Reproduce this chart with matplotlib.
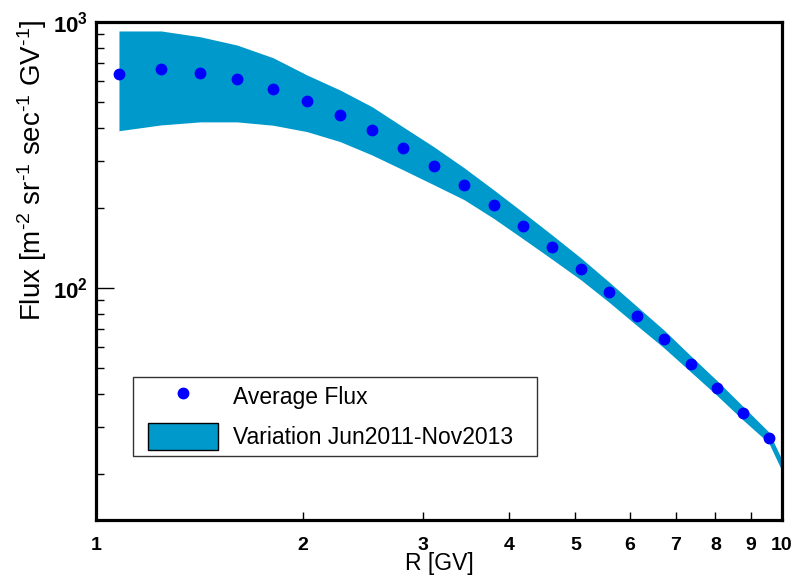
"""
Average flux vs rigidity with the Jun2011-Nov2013 variation band.
"""

import matplotlib
matplotlib.use("Agg")
import matplotlib.pyplot as plt
from matplotlib.legend_handler import HandlerLine2D, HandlerPatch
from matplotlib.patches import Patch
from matplotlib.ticker import FixedLocator, NullFormatter, NullLocator

plt.rcParams["font.family"] = ["Liberation Sans", "DejaVu Sans"]
plt.rcParams["mathtext.fontset"] = "custom"
plt.rcParams["mathtext.rm"] = "Liberation Sans"
plt.rcParams["mathtext.bf"] = "Liberation Sans:bold"
plt.rcParams["mathtext.default"] = "regular"

# rigidity points (GV) and average flux
rigidity = [1.08, 1.244, 1.418, 1.605, 1.811, 2.03, 2.268, 2.526, 2.803, 3.11,
            3.44, 3.80, 4.193, 4.62, 5.09, 5.595, 6.145, 6.73, 7.37, 8.04,
            8.77, 9.57]
avg_flux = [637, 666, 643, 610, 560, 505, 447, 393, 336, 288,
            244, 205, 171, 142.6, 117.9, 96.6, 78.5, 64.3, 51.8, 42.1,
            33.9, 27.3]

# variation band (min / max over the period), one extra point at 10 GV
band_r = rigidity + [10.0]
band_hi = [925, 925, 880, 819, 734, 632, 555, 480, 403, 339,
           283, 233.7, 192.4, 158.3, 129.7, 105.3, 85.2, 69.4, 55.4, 44.8,
           35.9, 28.7, 22.6]
band_lo = [390, 410, 421, 421, 409, 387, 355, 316, 278, 244,
           214.7, 182.5, 153, 128.3, 107.3, 88.4, 72.2, 59.5, 48.2, 39.4,
           31.9, 26.1, 20.5]

x_ticks = [1, 2, 3, 4, 5, 6, 7, 8, 9, 10]

fig = plt.figure(figsize=(7.95, 5.78), dpi=100)
ax = fig.add_axes([0.1208, 0.1003, 0.8628, 0.8617])

band_color = "#0099cc"
ax.fill_between(band_r, band_lo, band_hi, color=band_color, linewidth=0)
pts, = ax.plot(rigidity, avg_flux, "o", color="#0000ff", markersize=7.5)

ax.set_xscale("log")
ax.set_yscale("log")
ax.set_xlim(1, 10)
ax.set_ylim(13.4, 1000)

ax.xaxis.set_major_locator(FixedLocator(x_ticks))
ax.xaxis.set_minor_locator(NullLocator())
ax.set_xticklabels([str(t) for t in x_ticks], fontsize=14, fontweight="bold")
ax.xaxis.set_minor_formatter(NullFormatter())

ax.yaxis.set_major_locator(FixedLocator([100, 1000]))
ax.yaxis.set_minor_locator(FixedLocator([20, 30, 40, 50, 60, 70, 80, 90,
                                         200, 300, 400, 500, 600, 700, 800, 900]))
ax.set_yticklabels([r"$\mathbf{10^{2}}$", r"$\mathbf{10^{3}}$"], fontsize=16)
ax.yaxis.set_minor_formatter(NullFormatter())

ax.tick_params(axis="x", which="major", direction="in", length=5.5, width=1,
               pad=12, top=False)
ax.tick_params(axis="y", which="major", direction="in", length=13, width=1,
               pad=6, right=False)
ax.tick_params(axis="y", which="minor", direction="in", length=5.5, width=1,
               right=False)

for side in ax.spines.values():
    side.set_linewidth(2.3)

ax.set_xlabel("R [GV]", fontsize=16.5, labelpad=-1.5)
ax.set_ylabel(r"Flux [m$^{\text{-}2}$ sr$^{\text{-}1}$ sec$^{\text{-}1}$ GV$^{\text{-}1}$]",
              fontsize=20, loc="top")
ax.yaxis.set_label_coords(-0.069, 1.004)

band_proxy = Patch(facecolor=band_color, edgecolor="black", linewidth=1)
leg = ax.legend([pts, band_proxy], ["Average Flux", "Variation Jun2011-Nov2013"],
                loc="lower left", bbox_to_anchor=(0.054, 0.1285, 0.589, 0.16),
                mode="expand", borderaxespad=0, fontsize=16.5, frameon=True,
                fancybox=False, handlelength=3.45, handleheight=1.43,
                handletextpad=0.65, labelspacing=0.57, borderpad=0.27,
                numpoints=1,
                handler_map={band_proxy: HandlerPatch(xpad=0.39),
                             pts: HandlerLine2D(xpad=0.39)})
leg.get_frame().set_edgecolor("black")
leg.get_frame().set_linewidth(1)

fig.savefig("out.png", dpi=100)
plt.close(fig)
